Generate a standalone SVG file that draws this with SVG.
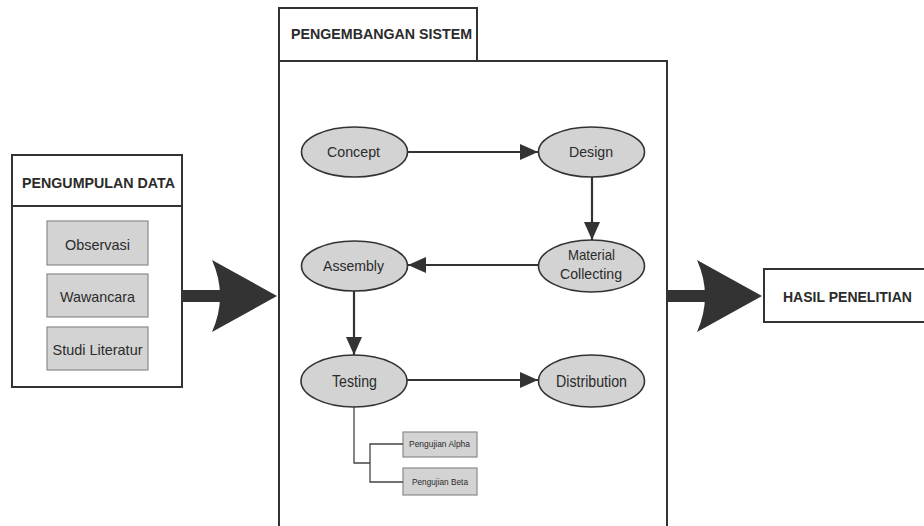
<svg xmlns="http://www.w3.org/2000/svg" width="924" height="526" viewBox="0 0 924 526">
<defs>
<style>
.box{fill:#fff;stroke:#333;stroke-width:2}
.gbox{fill:#d3d3d3;stroke:#8a8a8a;stroke-width:1.2}
.ell{fill:#d3d3d3;stroke:#333;stroke-width:1.6}
.line{fill:none;stroke:#333;stroke-width:2.2}
.thin{fill:none;stroke:#444;stroke-width:1.3}
.big{fill:#333}
text{font-family:"Liberation Sans",Arial,sans-serif;fill:#2b2b2b;text-anchor:middle}
.hd{font-weight:bold;font-size:15px}
.t{font-size:15px}
.tl{font-size:17px}
.ts{font-size:9px}
</style>
<marker id="ah2" viewBox="0 0 18 16" refX="18" refY="8" markerWidth="18" markerHeight="16" markerUnits="userSpaceOnUse" orient="auto">
<path d="M0,0 L18,8 L0,16 z" fill="#333"/>
</marker>
</defs>

<g id="pengumpulan-data">
<rect class="box" x="12" y="155" width="170" height="232"/>
<line class="box" x1="12" y1="206" x2="182" y2="206"/>
<text class="hd" x="98.5" y="187.5" textLength="153" lengthAdjust="spacingAndGlyphs">PENGUMPULAN DATA</text>
</g>
<g id="observasi">
<rect class="gbox" x="47" y="221" width="101" height="44"/>
<text class="t" x="97.5" y="250" textLength="65" lengthAdjust="spacingAndGlyphs">Observasi</text>
</g>
<g id="wawancara">
<rect class="gbox" x="47" y="274" width="101" height="43"/>
<text class="t" x="97.5" y="302" textLength="75" lengthAdjust="spacingAndGlyphs">Wawancara</text>
</g>
<g id="studi-literatur">
<rect class="gbox" x="47" y="327" width="101" height="43"/>
<text class="t" x="97.5" y="355" textLength="90" lengthAdjust="spacingAndGlyphs">Studi Literatur</text>
</g>

<g id="pengembangan-sistem">
<rect class="box" x="279" y="8" width="198" height="53"/>
<rect class="box" x="279" y="61" width="388" height="472"/>
<text class="hd" x="381.5" y="38.5" textLength="181" lengthAdjust="spacingAndGlyphs">PENGEMBANGAN SISTEM</text>
</g>

<g id="hasil-penelitian">
<rect class="box" x="764" y="269" width="170" height="53"/>
<text class="hd" x="847.5" y="301.5" textLength="129" lengthAdjust="spacingAndGlyphs">HASIL PENELITIAN</text>
</g>

<g id="concept">
<ellipse class="ell" cx="354.5" cy="152" rx="53" ry="25"/>
<text class="t" x="353.5" y="157" textLength="53" lengthAdjust="spacingAndGlyphs">Concept</text>
</g>
<g id="design">
<ellipse class="ell" cx="591.5" cy="152" rx="53" ry="25"/>
<text class="t" x="591" y="157" textLength="44" lengthAdjust="spacingAndGlyphs">Design</text>
</g>
<g id="material-collecting">
<ellipse class="ell" cx="591.5" cy="266" rx="53" ry="26"/>
<text class="t" x="591.5" y="260" font-size="14" textLength="47" lengthAdjust="spacingAndGlyphs">Material</text>
<text class="t" x="591" y="279" font-size="14" textLength="62" lengthAdjust="spacingAndGlyphs">Collecting</text>
</g>
<g id="assembly">
<ellipse class="ell" cx="354.5" cy="266" rx="53" ry="25"/>
<text class="t" x="353.5" y="271" textLength="61" lengthAdjust="spacingAndGlyphs">Assembly</text>
</g>
<g id="testing">
<ellipse class="ell" cx="354" cy="381" rx="53" ry="26"/>
<text class="tl" x="354.5" y="387" textLength="45" lengthAdjust="spacingAndGlyphs">Testing</text>
</g>
<g id="distribution">
<ellipse class="ell" cx="591.5" cy="381" rx="53" ry="26"/>
<text class="tl" x="591.5" y="387" textLength="71" lengthAdjust="spacingAndGlyphs">Distribution</text>
</g>
<g id="pengujian-alpha">
<rect class="gbox" x="403" y="432" width="74" height="25"/>
<text class="ts" x="439.5" y="447" textLength="61" lengthAdjust="spacingAndGlyphs">Pengujian Alpha</text>
</g>
<g id="pengujian-beta">
<rect class="gbox" x="403" y="468" width="74" height="27"/>
<text class="ts" x="440" y="485" textLength="56" lengthAdjust="spacingAndGlyphs">Pengujian Beta</text>
</g>

<g id="connectors">
<rect class="big" x="182" y="290" width="38" height="12"/>
<path class="big" d="M212,260 L277,296 L212,332 Q228,296 212,260 Z"/>
<rect class="big" x="667" y="290" width="38" height="12"/>
<path class="big" d="M697,260 L762,296 L697,332 Q713,296 697,260 Z"/>
<line class="line" x1="408" y1="152" x2="538" y2="152" marker-end="url(#ah2)"/>
<line class="line" x1="592" y1="177" x2="592" y2="240" marker-end="url(#ah2)"/>
<line class="line" x1="538" y1="265" x2="408" y2="265" marker-end="url(#ah2)"/>
<line class="line" x1="354" y1="291" x2="354" y2="355" marker-end="url(#ah2)"/>
<line class="line" x1="407" y1="380" x2="538" y2="380" marker-end="url(#ah2)"/>
<path class="thin" d="M354,407 V463 H370"/>
<path class="thin" d="M403,444 H370 V482 H403"/>
</g>
</svg>
